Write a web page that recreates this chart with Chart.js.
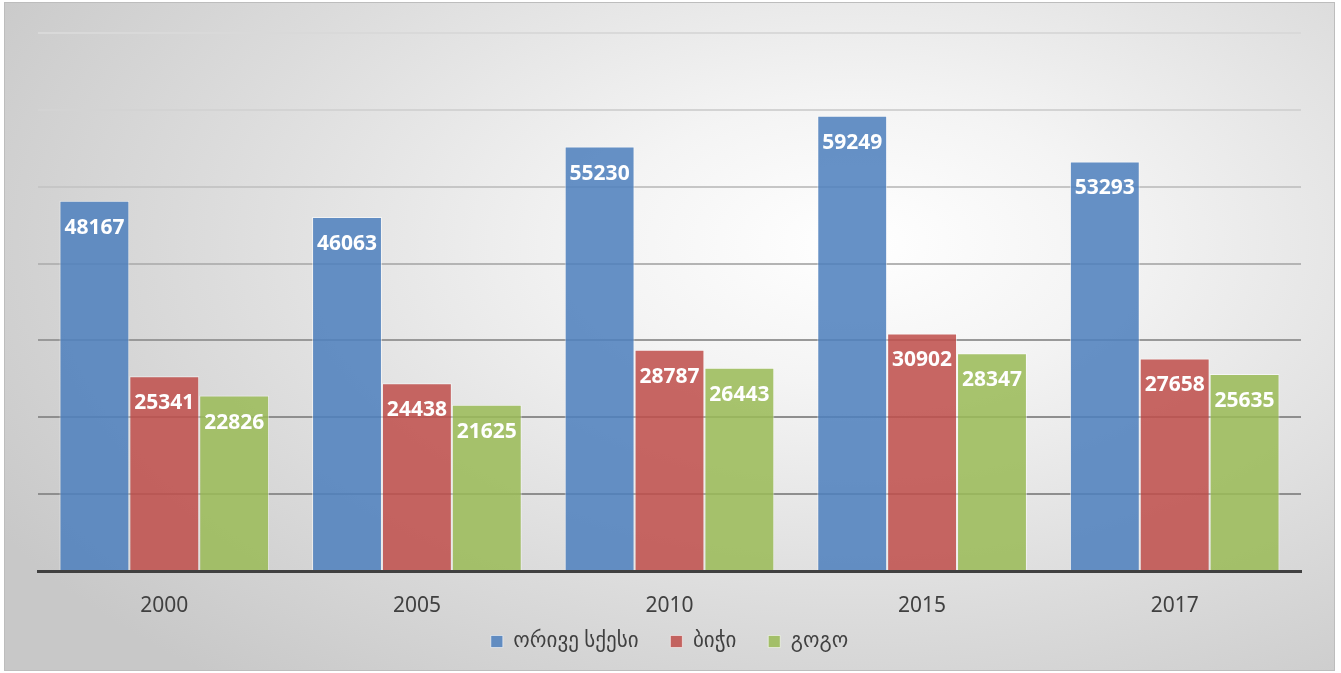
<!DOCTYPE html>
<html>
<head>
<meta charset="utf-8">
<script src="https://cdn.jsdelivr.net/npm/chart.js@4.4.1/dist/chart.umd.min.js"></script>
<style>
  html, body { margin: 0; padding: 0; background: #fff; }
  #wrap {
    position: absolute; left: 4px; top: 2px;
    width: 1331px; height: 669px;
    box-sizing: border-box;
    border: 1px solid #bdbdbd;
    background: radial-gradient(ellipse 75% 85% at 64% 36%, #ffffff 0%, #f4f4f4 25%, #dcdcdc 65%, #c8c8c8 100%);
  }
</style>
</head>
<body>
<div id="wrap"><canvas id="chart"></canvas></div>
<script>
// ---- data ----
const years = ["2000", "2005", "2010", "2015", "2017"];
const seriesNames = ["ორივე სქესი", "ბიჭი", "გოგო"];
const bothSexes = [48167, 46063, 55230, 59249, 53293];
const boys = [25341, 24438, 28787, 30902, 27658];
const girls = [22826, 21625, 26443, 28347, 25635];

const fills = ["rgba(79,129,189,0.87)", "rgba(192,80,77,0.87)", "rgba(155,187,89,0.87)"];

// gridline shade per value (darker near the axis)
const gridShade = {
  10000: "#8e8e8e", 20000: "#8e8e8e", 30000: "#999999",
  40000: "#b4b4b4", 50000: "#c6c6c6", 60000: "#d3d3d3", 70000: "#d9d9d9"
};

Chart.defaults.font.family = "'Noto Sans', 'DejaVu Sans', sans-serif";

// white value labels inside the top of each bar
const barLabels = {
  id: "barLabels",
  afterDatasetsDraw(chart) {
    const ctx = chart.ctx;
    ctx.save();
    ctx.fillStyle = "#ffffff";
    ctx.font = "bold 21px 'Noto Sans', sans-serif";
    ctx.textAlign = "center";
    ctx.textBaseline = "middle";
    chart.data.datasets.forEach((ds, i) => {
      chart.getDatasetMeta(i).data.forEach((bar, j) => {
        ctx.fillText(String(ds.data[j]), bar.x, bar.y + 27);
      });
    });
    ctx.restore();
  }
};

new Chart(document.getElementById("chart"), {
  type: "bar",
  data: {
    labels: years,
    datasets: [
      { label: seriesNames[0], data: bothSexes },
      { label: seriesNames[1], data: boys },
      { label: seriesNames[2], data: girls }
    ].map((d, i) => Object.assign(d, {
      backgroundColor: fills[i],
      borderColor: "rgba(255,255,255,0.55)",
      borderWidth: 1,
      categoryPercentage: 0.83,
      barPercentage: 1.0
    }))
  },
  options: {
    responsive: true,
    maintainAspectRatio: false,
    animation: false,
    layout: { padding: { left: 33, right: 33, top: 30, bottom: 8 } },
    plugins: {
      legend: {
        position: "bottom",
        labels: {
          boxWidth: 12, boxHeight: 12, padding: 10,
          color: "#404040",
          font: { size: 21 },
          // extra gap between items without taller legend
          generateLabels: (chart) => {
            const items = Chart.defaults.plugins.legend.labels.generateLabels(chart);
            return items.map((it, i) => Object.assign(it, {
              text: i < items.length - 1 ? it.text + "    " : it.text
            }));
          }
        }
      },
      tooltip: { enabled: false }
    },
    scales: {
      x: {
        afterFit: (s) => { s.height = 50; },
        grid: { display: false, drawTicks: false },
        border: { display: true, color: "#404040", width: 3 },
        ticks: { color: "#404040", font: { size: 21 }, padding: 22 }
      },
      y: {
        min: 0, max: 70000,
        ticks: { display: false, stepSize: 10000 },
        border: { display: false },
        grid: {
          drawTicks: false,
          lineWidth: 2,
          color: (c) => c.tick && gridShade[c.tick.value] ? gridShade[c.tick.value] : "transparent"
        }
      }
    }
  },
  plugins: [barLabels]
});
</script>
</body>
</html>
